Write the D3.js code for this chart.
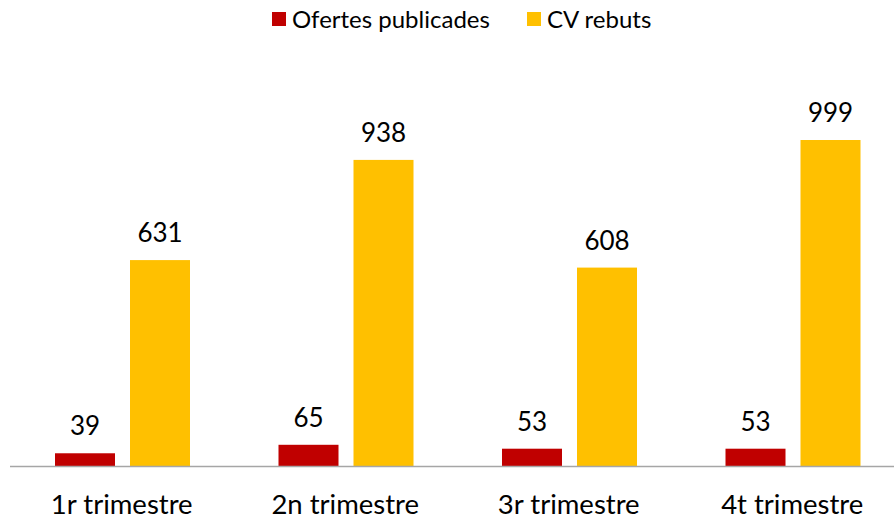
<!DOCTYPE html>
<html>
<head>
<meta charset="utf-8">
<script src="https://cdn.jsdelivr.net/npm/d3@7"></script>
<style>
  body { margin: 0; background: #fff; }
  text { font-family: Lato, "Open Sans", sans-serif; fill: #000; }
</style>
</head>
<body>
<svg width="894" height="519"></svg>
<script>
const categories = ['1r trimestre', '2n trimestre', '3r trimestre', '4t trimestre'];
const seriesNames = ['Ofertes publicades', 'CV rebuts'];
const ofertes = [39, 65, 53, 53];
const cvRebuts = [631, 938, 608, 999];
const colors = ['#C00000', '#FFC000'];

const svg = d3.select('svg');

// band per trimestre, then one sub-band per serie
const x = d3.scaleBand().domain(categories).range([10, 904]);
const x1 = d3.scaleBand().domain(seriesNames).range([45, 180]).paddingInner(0.2);
const y = d3.scaleLinear().domain([0, 999]).range([466, 140]);

const rows = categories.map((c, i) => ({ cat: c, values: [ofertes[i], cvRebuts[i]] }));

const g = svg.selectAll('g.grp').data(rows).join('g')
  .attr('class', 'grp')
  .attr('transform', d => `translate(${x(d.cat)},0)`);

g.selectAll('rect')
  .data(d => d.values.map((v, j) => ({ name: seriesNames[j], v, j })))
  .join('rect')
  .attr('x', d => x1(d.name))
  .attr('width', x1.bandwidth())
  .attr('y', d => y(d.v))
  .attr('height', d => y(0) - y(d.v))
  .attr('fill', d => colors[d.j]);

g.selectAll('text.val')
  .data(d => d.values.map((v, j) => ({ name: seriesNames[j], v })))
  .join('text')
  .attr('class', 'val')
  .attr('x', d => x1(d.name) + x1.bandwidth() / 2)
  .attr('y', d => y(d.v) - 18)
  .attr('text-anchor', 'middle')
  .style('font-size', '26px')
  .text(d => d.v);

// axis line
svg.append('line')
  .attr('x1', 10).attr('x2', 894)
  .attr('y1', y(0) + 0.5).attr('y2', y(0) + 0.5)
  .attr('stroke', '#a6a6a6').attr('stroke-width', 1.5);

svg.selectAll('text.cat').data(categories).join('text')
  .attr('class', 'cat')
  .attr('x', d => x(d) + x.bandwidth() / 2)
  .attr('y', 514)
  .attr('text-anchor', 'middle')
  .style('font-size', '27.5px')
  .text(d => d);

// legend
const legX = [272, 527];
const leg = svg.selectAll('g.leg').data(seriesNames).join('g')
  .attr('class', 'leg')
  .attr('transform', (d, i) => `translate(${legX[i]},12)`);
leg.append('rect').attr('width', 14).attr('height', 14).attr('fill', (d, i) => colors[i]);
leg.append('text').attr('x', 20).attr('y', 16).style('font-size', '24px').text(d => d);
</script>
</body>
</html>
